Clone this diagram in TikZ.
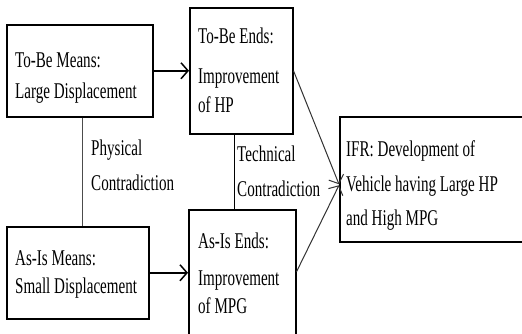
\documentclass[tikz,border=0pt]{standalone}
\usepackage{fontspec}
\setmainfont{Liberation Serif}[FakeStretch=0.67]
\usetikzlibrary{arrows.meta}
\begin{document}
\begin{tikzpicture}[x=1pt,y=-1pt,
 box/.style={draw=black, line width=1.5pt, fill=white, inner sep=0pt, anchor=north west},
 lbl/.style={anchor=base west, inner sep=0pt, font=\fontsize{22.5}{27}\selectfont},
 arr/.style={-{Straight Barb[length=7pt,width=16pt]}, line width=1.5pt},
 diag/.style={-{Straight Barb[length=7pt,width=16pt]}, line width=1pt, draw=black!80},
 link/.style={line width=1pt}]
\useasboundingbox (0,0) rectangle (522,333);
\clip (0,0) rectangle (522,333);
\fill[white] (0,0) rectangle (522,333);
% boxes
\node[box, minimum width=146pt, minimum height=92pt] (b1) at (6,24) {};
\node[box, minimum width=103pt, minimum height=126pt] (b2) at (189,7) {};
\node[box, minimum width=142pt, minimum height=92pt] (b3) at (6,226) {};
\node[box, minimum width=107pt, minimum height=140pt] (b4) at (188,209) {};
\node[box, minimum width=200pt, minimum height=125pt] (b5) at (339,116) {};
% texts
\node[lbl] (t1a) at (15,67) {To-Be Means:};
\node[lbl] (t1b) at (15,98) {Large Displacement};
\node[lbl] (t3a) at (15,265) {As-Is Means:};
\node[lbl] (t3b) at (15,293) {Small Displacement};
\node[lbl] (t2a) at (198,43) {To-Be Ends:};
\node[lbl] (t2b) at (198,83) {Improvement};
\node[lbl] (t2c) at (198,112) {of HP};
\node[lbl] (t4a) at (198,248) {As-Is Ends:};
\node[lbl] (t4b) at (198,285) {Improvement};
\node[lbl] (t4c) at (198,313) {of MPG};
\node[lbl] (t5a) at (346,156) {IFR: Development of};
\node[lbl] (t5b) at (346,191) {Vehicle having Large HP};
\node[lbl] (t5c) at (346,225) {and High MPG};
\node[lbl] (pa) at (91,155) {Physical};
\node[lbl] (pb) at (91,190) {Contradiction};
\node[lbl] (ta) at (237,161) {Technical};
\node[lbl] (tb) at (237,196) {Contradiction};
% connectors
\draw[arr] (b1.east) -- (b2.west);
\draw[arr] (b3.east) -- (b3.east -| b4.west);
\draw[link, draw=black!70] ([xshift=3pt]b1.south) -- ([xshift=3pt]b1.south |- b3.north);
\draw[link] ([xshift=-6.5pt]b2.south) -- ([xshift=-6.5pt]b2.south |- b4.north);
\draw[diag] (b2.east) -- ([yshift=-5pt]b5.west);
\draw[diag] ([yshift=8pt]b4.east) -- ([yshift=-6pt]b5.west);
\end{tikzpicture}
\end{document}
